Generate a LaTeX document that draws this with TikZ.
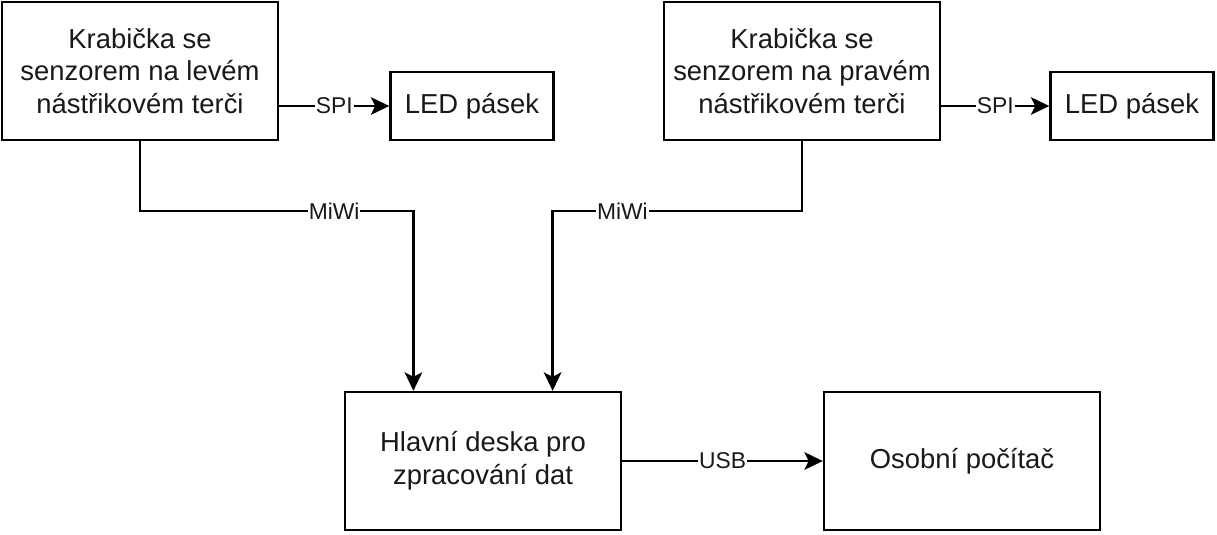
\documentclass[tikz,border=0pt]{standalone}
\usepackage{fontspec}
\setmainfont{Liberation Sans}
\usetikzlibrary{arrows.meta, positioning, calc}
\definecolor{linecol}{RGB}{0, 0, 0}
\definecolor{textcol}{RGB}{25, 25, 25}
\tikzset{
  blok/.style={
    draw=linecol, line width=1.35pt, fill=white,
    minimum width=5.52cm, minimum height=2.76cm,
    font=\fontsize{15.6}{18.6}\selectfont, text=textcol, align=center
  },
  led/.style={
    draw=linecol, line width=1.35pt, fill=white,
    minimum width=3.26cm, minimum height=1.36cm,
    font=\fontsize{15.6}{18.6}\selectfont, text=textcol, align=center
  },
  link/.style={-{Stealth[length=10.5pt, width=10pt, inset=2.5pt]}, line width=1.35pt, linecol},
  lbl/.style={fill=white, inner sep=0.5pt, font=\fontsize{13}{15}\selectfont, text=textcol},
}
\begin{document}
\begin{tikzpicture}
  \useasboundingbox (0,0) rectangle (24.34,-10.68);

  % ============ SENSOR BOXES ============
  \node[blok] (boxL) at ( 2.80,-1.42) {Krabička se\\senzorem na levém\\nástřikovém terči};
  \node[blok] (boxR) at (16.04,-1.42) {Krabička se\\senzorem na pravém\\nástřikovém terči};

  % LED strips
  \node[led] (ledL) at ( 9.44,-2.12) {LED pásek};
  \node[led] (ledR) at (22.64,-2.12) {LED pásek};

  % ============ MAIN BOARD + PC ============
  \node[blok] (board) at ( 9.66,-9.22) {Hlavní deska pro\\zpracování dat};
  \node[blok] (pc)    at (19.24,-9.22) {Osobní počítač};

  % inputs on top of the board
  \coordinate (inL) at ($(board.north west)!0.25!(board.north east)$);
  \coordinate (inR) at ($(board.north west)!0.75!(board.north east)$);

  % ============ LINKS ============
  % SPI
  \draw[link] (boxL.east |- ledL.west) -- node[lbl] {SPI} (ledL.west);
  \draw[link] (boxR.east |- ledR.west) -- node[lbl] {SPI} (ledR.west);

  % MiWi
  \draw[link] (boxL.south) -- ++(0,-1.4) -| node[lbl, pos=0.355] {MiWi} (inL);
  \draw[link] (boxR.south) -- ++(0,-1.4) -| node[lbl, pos=0.36] {MiWi} (inR);

  % USB
  \draw[link] (board.east) -- node[lbl] {USB} (pc.west);

\end{tikzpicture}
\end{document}
